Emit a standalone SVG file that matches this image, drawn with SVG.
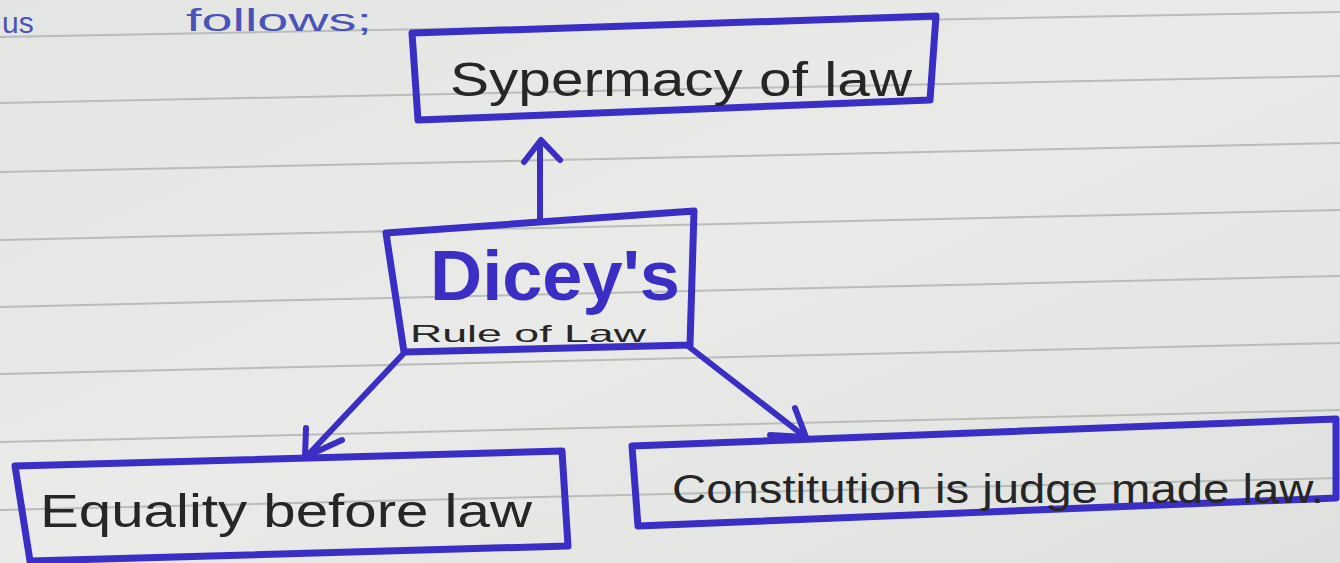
<svg xmlns="http://www.w3.org/2000/svg" width="1340" height="563" viewBox="0 0 1340 563">
<defs>
<style>
.rule{stroke:#b9bcba;stroke-width:2;fill:none}
.box{fill:none;stroke:#3a2ec4;stroke-width:7;stroke-linejoin:round}
.conn{fill:none;stroke:#3a2ec4;stroke-width:6;stroke-linecap:round;stroke-linejoin:round}
.hand{font-family:"Liberation Sans",Arial,sans-serif;fill:#262626}
.ink{font-family:"Liberation Sans",Arial,sans-serif;fill:#3a2ec4}
.pen{font-family:"Liberation Sans",Arial,sans-serif;fill:#4a54b8}
</style>
<linearGradient id="paper" x1="0" y1="0" x2="1" y2="1">
<stop offset="0" stop-color="#e3e5e2"/>
<stop offset="0.5" stop-color="#eaebe8"/>
<stop offset="1" stop-color="#dfe1de"/>
</linearGradient>
</defs>
<rect x="0" y="0" width="1340" height="563" fill="url(#paper)"/>
<g id="ruling">
<line class="rule" x1="0" y1="37" x2="1340" y2="12"/>
<line class="rule" x1="0" y1="103" x2="1340" y2="76"/>
<line class="rule" x1="0" y1="172" x2="1340" y2="143"/>
<line class="rule" x1="0" y1="240" x2="1340" y2="210"/>
<line class="rule" x1="0" y1="307" x2="1340" y2="276"/>
<line class="rule" x1="0" y1="374" x2="1340" y2="343"/>
<line class="rule" x1="0" y1="442" x2="1340" y2="410"/>
<line class="rule" x1="0" y1="510" x2="1340" y2="478"/>
</g>
<g id="intro">
<text class="pen" x="2" y="33" font-size="30">us</text>
<text class="pen" x="186" y="31" font-size="32" textLength="186" lengthAdjust="spacingAndGlyphs">follows;</text>
</g>
<g id="connectors">
<path class="conn" d="M540 222 L540 142"/>
<path class="conn" d="M524 162 L541 140 L560 160"/>
<path class="conn" d="M405 352 L308 455"/>
<path class="conn" d="M306 428 L305 457 L342 440"/>
<path class="conn" d="M688 346 L804 436"/>
<path class="conn" d="M795 408 L806 437 L770 435"/>
</g>
<g id="supremacy">
<path class="box" d="M412 33 L936 16 L930 100 L418 120 Z"/>
<text class="hand" x="450" y="96" font-size="48" textLength="462" lengthAdjust="spacingAndGlyphs">Sypermacy of law</text>
</g>
<g id="diceys">
<path class="box" d="M386 233 L694 211 L690 345 L404 352 Z"/>
<text class="ink" x="430" y="300" font-size="70" textLength="250" lengthAdjust="spacingAndGlyphs" font-weight="bold">Dicey's</text>
<text class="hand" x="410" y="342" font-size="24" textLength="236" lengthAdjust="spacingAndGlyphs">Rule of Law</text>
</g>
<g id="equality">
<path class="box" d="M15 466 L562 451 L568 546 L30 561 Z"/>
<text class="hand" x="40" y="527" font-size="46" textLength="492" lengthAdjust="spacingAndGlyphs">Equality before law</text>
</g>
<g id="constitution">
<path class="box" d="M632 446 L1336 419 L1336 498 L638 526 Z"/>
<text class="hand" x="672" y="503" font-size="40" textLength="652" lengthAdjust="spacingAndGlyphs">Constitution is judge made law.</text>
</g>
</svg>
